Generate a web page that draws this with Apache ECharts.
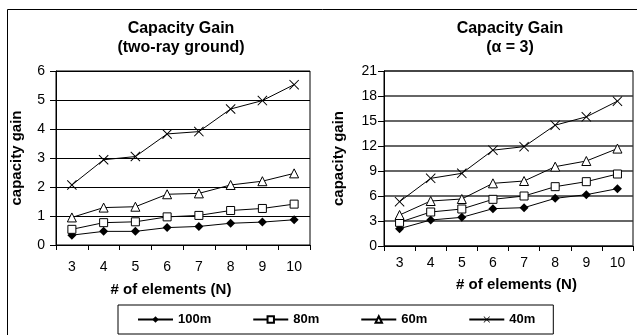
<!DOCTYPE html>
<html lang="en">
<head>
    <meta charset="UTF-8">
    <title>Capacity Gain</title>
    <script src="https://cdn.jsdelivr.net/npm/echarts@6/dist/echarts.min.js"></script>
    <style>
        html, body { margin: 0; padding: 0; background: #fff; }
        #main { width: 637px; height: 335px; }
    </style>
</head>
<body>
    <div id="main"></div>
    <script type="text/javascript">
        // x categories (# of elements N)
        const categories = ['3', '4', '5', '6', '7', '8', '9', '10'];
        const seriesNames = ['100m', '80m', '60m', '40m'];

        // left chart: two-ray ground
        const twoRay100 = [0.34, 0.47, 0.47, 0.60, 0.64, 0.75, 0.79, 0.87];
        const twoRay80 = [0.54, 0.77, 0.80, 0.97, 1.02, 1.19, 1.26, 1.41];
        const twoRay60 = [0.95, 1.29, 1.32, 1.75, 1.78, 2.07, 2.20, 2.47];
        const twoRay40 = [2.07, 2.94, 3.05, 3.83, 3.91, 4.69, 4.98, 5.53];

        // right chart: alpha = 3
        const alpha100 = [2.08, 3.12, 3.44, 4.48, 4.60, 5.72, 6.16, 6.88];
        const alpha80 = [2.84, 4.08, 4.44, 5.60, 6.00, 7.12, 7.72, 8.64];
        const alpha60 = [3.72, 5.40, 5.64, 7.52, 7.80, 9.52, 10.20, 11.69];
        const alpha40 = [5.32, 8.12, 8.72, 11.50, 11.92, 14.50, 15.50, 17.38];

        const crossIcon = 'path://M0,0.7L0.7,0L5,4.3L9.3,0L10,0.7L5.7,5L10,9.3L9.3,10L5,5.7L0.7,10L0,9.3L4.3,5Z';

        const markerStyle = {
            '100m': { symbol: 'diamond', symbolSize: 9, itemStyle: { color: '#000', borderWidth: 0 } },
            '80m': { symbol: 'rect', symbolSize: 8, itemStyle: { color: '#fff', borderColor: '#000', borderWidth: 1 } },
            '60m': { symbol: 'triangle', symbolSize: 9, itemStyle: { color: '#fff', borderColor: '#000', borderWidth: 1 } },
            '40m': { symbol: crossIcon, symbolSize: 10, itemStyle: { color: '#000', borderWidth: 0 } }
        };

        function makeSeries(name, data, idx) {
            const m = markerStyle[name];
            return {
                name: name,
                type: 'line',
                xAxisIndex: idx,
                yAxisIndex: idx,
                data: data,
                symbol: m.symbol,
                symbolSize: m.symbolSize,
                showAllSymbol: true,
                itemStyle: m.itemStyle,
                lineStyle: { color: '#000', width: 1 },
                animation: false
            };
        }

        const font = 'Liberation Sans, Arial, sans-serif';

        function xAxisFor(idx, labelMargin, nameGap, namePad) {
            return {
                type: 'category',
                gridIndex: idx,
                data: categories,
                boundaryGap: true,
                axisLine: { lineStyle: { color: '#000', width: 1 } },
                axisTick: { show: true, length: 5, lineStyle: { color: '#000' } },
                axisLabel: { color: '#000', fontSize: 14, fontFamily: font, margin: labelMargin },
                name: '# of elements (N)',
                nameLocation: 'middle',
                nameGap: nameGap,
                nameTextStyle: { color: '#000', fontSize: 15, fontWeight: 'bold', fontFamily: font, padding: namePad }
            };
        }

        function yAxisFor(idx, max, interval, labelMargin, nameGap, gridColor, gridWidth) {
            return {
                type: 'value',
                gridIndex: idx,
                min: 0,
                max: max,
                interval: interval,
                axisLine: { show: true, lineStyle: { color: '#000', width: 1 } },
                axisTick: { show: true, length: 6, lineStyle: { color: '#000' } },
                axisLabel: { color: '#000', fontSize: 14, fontFamily: font, margin: labelMargin },
                splitLine: { show: true, lineStyle: { color: gridColor, width: gridWidth } },
                name: 'capacity gain',
                nameLocation: 'middle',
                nameGap: nameGap,
                nameRotate: 90,
                nameTextStyle: { color: '#000', fontSize: 15, fontWeight: 'bold', fontFamily: font }
            };
        }

        const option = {
            backgroundColor: '#fff',
            animation: false,
            title: [
                {
                    text: 'Capacity Gain\n(two-ray ground)',
                    left: 176, top: 14, textAlign: 'center',
                    textStyle: { color: '#000', fontSize: 16, fontWeight: 'bold', fontFamily: font, lineHeight: 19 }
                },
                {
                    text: 'Capacity Gain\n(\u03b1 = 3)',
                    left: 505, top: 14, textAlign: 'center',
                    textStyle: { color: '#000', fontSize: 16, fontWeight: 'bold', fontFamily: font, lineHeight: 19 }
                }
            ],
            legend: {
                data: seriesNames,
                left: 118,
                top: 305,
                orient: 'horizontal',
                itemWidth: 35,
                itemHeight: 8,
                itemGap: 41,
                padding: [8, 18, 8, 19],
                borderColor: '#000',
                borderWidth: 1,
                textStyle: { color: '#000', fontSize: 13, fontWeight: 'bold', fontFamily: font }
            },
            graphic: [
                {
                    type: 'rect',
                    silent: true,
                    shape: { x: 7.5, y: 9.5, width: 700, height: 400 },
                    style: { fill: null, stroke: '#000', lineWidth: 1 }
                }
            ],
            grid: [
                { left: 56, right: 327, top: 71, bottom: 90, show: true, borderColor: '#000', borderWidth: 1, backgroundColor: '#fff' },
                { left: 384, right: 4, top: 71, bottom: 89, show: true, borderColor: '#000', borderWidth: 1, backgroundColor: '#fff' }
            ],
            xAxis: [
                xAxisFor(0, 15, 37, [0, 24, 0, 0]),
                xAxisFor(1, 10, 31, [0, 0, 0, 16])
            ],
            yAxis: [
                yAxisFor(0, 6, 1, 11, 32, '#000', 1),
                yAxisFor(1, 21, 3, 7, 38, '#333', 1.5)
            ],
            series: [
                makeSeries('100m', twoRay100, 0),
                makeSeries('80m', twoRay80, 0),
                makeSeries('60m', twoRay60, 0),
                makeSeries('40m', twoRay40, 0),
                makeSeries('100m', alpha100, 1),
                makeSeries('80m', alpha80, 1),
                makeSeries('60m', alpha60, 1),
                makeSeries('40m', alpha40, 1)
            ]
        };

        const myChart = echarts.init(document.getElementById('main'), null, { renderer: 'canvas' });
        myChart.setOption(option);
    </script>
</body>
</html>
